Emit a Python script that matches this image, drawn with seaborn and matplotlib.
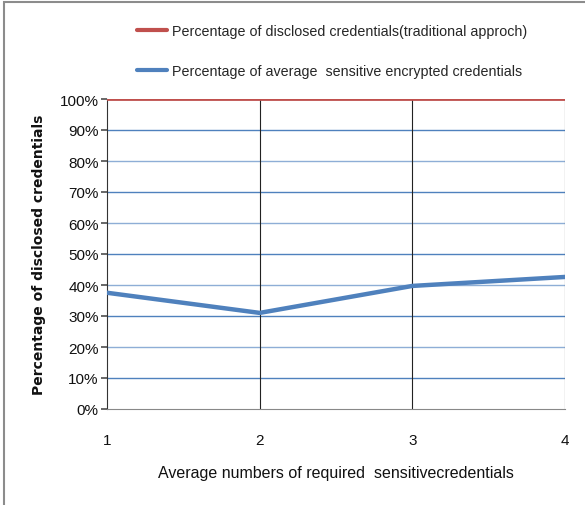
import matplotlib
matplotlib.use("Agg")
import matplotlib.pyplot as plt
import matplotlib.patches as mpatches
from matplotlib.lines import Line2D
from matplotlib.ticker import PercentFormatter
import seaborn as sns
import pandas as pd

x_values = [1, 2, 3, 4]
traditional = [100, 100, 100, 100]
encrypted = [37.5, 31.0, 39.7, 42.6]
series_names = ["Percentage of disclosed credentials(traditional approch)",
                "Percentage of average  sensitive encrypted credentials"]
y_ticks = [0, 10, 20, 30, 40, 50, 60, 70, 80, 90, 100]

sns.set_theme(style="white")
plt.rcParams['font.family'] = ['Liberation Sans', 'DejaVu Sans']

df = pd.DataFrame({
    "x": x_values * 2,
    "y": traditional + encrypted,
    "series": [series_names[0]] * 4 + [series_names[1]] * 4,
})

fig = plt.figure(figsize=(5.85, 5.06), dpi=100)
ax = fig.add_axes([107/585, 96/506, 458/585, 310/506])

colors = {series_names[0]: "#c0504d", series_names[1]: "#4f81bd"}
sns.lineplot(data=df, x="x", y="y", hue="series", palette=colors, ax=ax,
             legend=False, linewidth=2.0, zorder=3)
for line in ax.get_lines():
    if line.get_color() == "#4f81bd":
        line.set_linewidth(3.2)

ax.set_xlim(1, 4)
ax.set_ylim(0, 100)
ax.set_yticks(y_ticks)
ax.set_xticks(x_values)
ax.yaxis.set_major_formatter(PercentFormatter(decimals=0))
ax.set_xticklabels([str(v) for v in x_values])

for t in y_ticks[1:]:
    ax.axhline(t, color="#8eaed6" if t % 20 == 0 else "#4f81bd", linewidth=1.0, zorder=1)
for xv in x_values[1:]:
    ax.axvline(xv, color="#222222", linewidth=0.8, zorder=1)

for s in ["top", "right"]:
    ax.spines[s].set_visible(False)
ax.spines["left"].set_color("#333333")
ax.spines["left"].set_linewidth(0.8)
ax.spines["bottom"].set_color("#888888")
ax.spines["bottom"].set_linewidth(0.8)

ax.tick_params(axis="y", labelsize=11, length=4, left=True, color="#555555", pad=2)
ax.tick_params(axis="x", labelsize=11, length=0, pad=17)
for lbl in ax.get_xticklabels() + ax.get_yticklabels():
    lbl.set_color("#111111")

ax.set_xlabel("Average numbers of required  sensitivecredentials", fontsize=11.5,
              color="#111111", labelpad=13)
ax.set_ylabel("Percentage of disclosed credentials", fontsize=10, fontweight="bold",
              family=["DejaVu Sans"], color="#111111", labelpad=10)

handles = [Line2D([0], [0], color=colors[n], linewidth=3) for n in series_names]
fig.legend(handles, series_names, loc="upper left", bbox_to_anchor=(137/585, 1 - 25/506),
           frameon=False, fontsize=10.3, handlelength=2.1, handletextpad=0.35,
           labelspacing=1.8, borderpad=0, borderaxespad=0)

fig.patches.append(mpatches.Rectangle((4/585, -0.1), 1.2, 1.1 - 3/506, transform=fig.transFigure,
                                      fill=False, edgecolor="#8c8c8c", linewidth=1.5))

fig.savefig("out.png", dpi=100)
